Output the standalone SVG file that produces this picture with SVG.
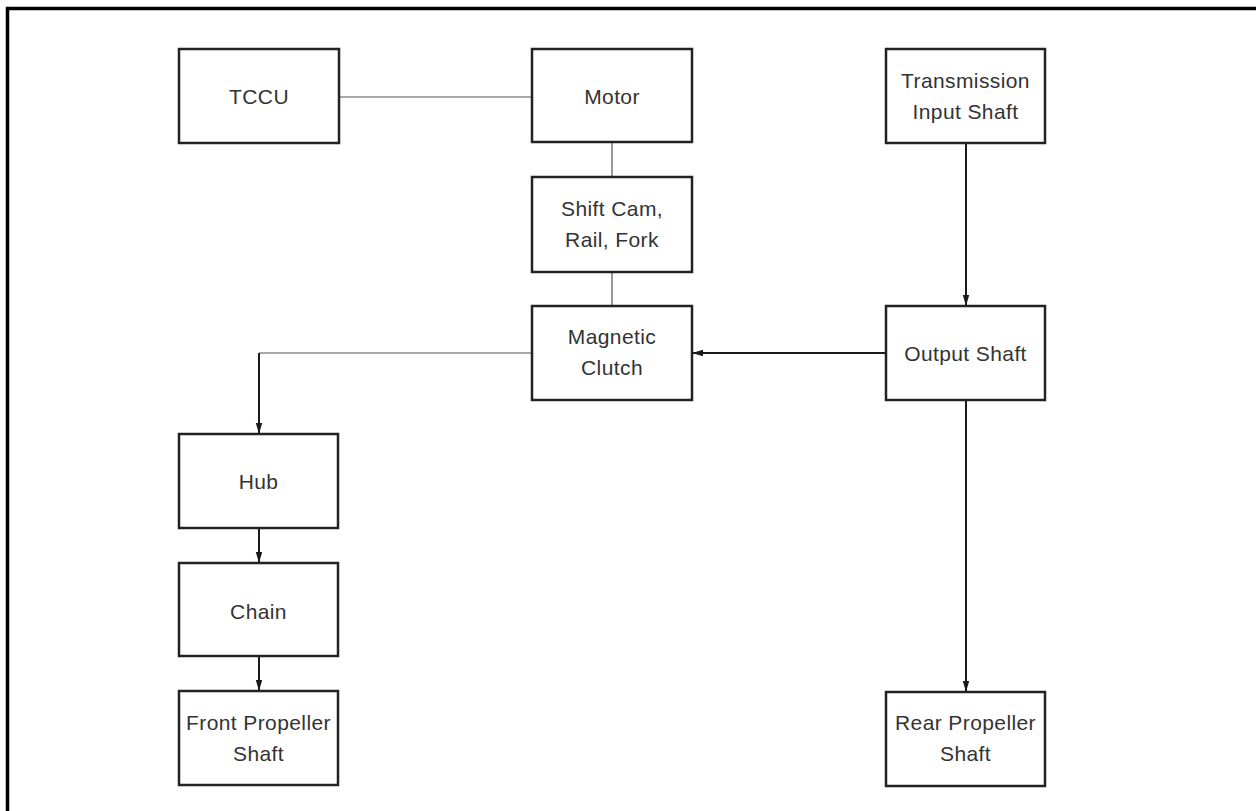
<svg xmlns="http://www.w3.org/2000/svg" width="1256" height="811" viewBox="0 0 1256 811">
<style>
.box{fill:#fff;stroke:#222;stroke-width:2.5}
.t{font-family:"Liberation Sans",Arial,sans-serif;font-size:21px;fill:#333;text-anchor:middle;letter-spacing:0.4px}
.thin{fill:none;stroke:#555;stroke-width:1.2}
.thick{fill:none;stroke:#1a1a1a;stroke-width:2}
</style>
<defs>
<marker id="ah" markerWidth="12" markerHeight="8" refX="11" refY="4" orient="auto" markerUnits="userSpaceOnUse">
<path d="M0,0.8 L11,4 L0,7.2 Z" fill="#1a1a1a"/>
</marker>
</defs>
<rect width="1256" height="811" fill="#fff"/>
<path d="M7.5,811 V8.5 H1256" fill="none" stroke="#000" stroke-width="3.5"/>
<g id="connectors">
<path class="thin" d="M339,97 H532"/>
<path class="thin" d="M612,142 V177"/>
<path class="thin" d="M612,272 V306"/>
<path class="thin" d="M532,353 H259"/>
<path class="thick" d="M259,353 V434" marker-end="url(#ah)"/>
<path class="thick" d="M259,528 V563" marker-end="url(#ah)"/>
<path class="thick" d="M259,656 V691" marker-end="url(#ah)"/>
<path class="thick" d="M886,353 H692" marker-end="url(#ah)"/>
<path class="thick" d="M966,143 V306" marker-end="url(#ah)"/>
<path class="thick" d="M966,400 V692" marker-end="url(#ah)"/>
</g>
<g id="tccu"><rect class="box" x="179" y="49" width="160" height="94"/><text class="t" x="259" y="104">TCCU</text></g>
<g id="motor"><rect class="box" x="532" y="49" width="160" height="93"/><text class="t" x="612" y="104">Motor</text></g>
<g id="shift"><rect class="box" x="532" y="177" width="160" height="95"/><text class="t" x="612" y="216">Shift Cam,</text><text class="t" x="612" y="247">Rail, Fork</text></g>
<g id="clutch"><rect class="box" x="532" y="306" width="160" height="94"/><text class="t" x="612" y="344">Magnetic</text><text class="t" x="612" y="375">Clutch</text></g>
<g id="input"><rect class="box" x="886" y="49" width="159" height="94"/><text class="t" x="965.5" y="88">Transmission</text><text class="t" x="965.5" y="119">Input Shaft</text></g>
<g id="output"><rect class="box" x="886" y="306" width="159" height="94"/><text class="t" x="965.5" y="361">Output Shaft</text></g>
<g id="rear"><rect class="box" x="886" y="692" width="159" height="94"/><text class="t" x="965.5" y="730">Rear Propeller</text><text class="t" x="965.5" y="761">Shaft</text></g>
<g id="hub"><rect class="box" x="179" y="434" width="159" height="94"/><text class="t" x="258.5" y="489">Hub</text></g>
<g id="chain"><rect class="box" x="179" y="563" width="159" height="93"/><text class="t" x="258.5" y="619">Chain</text></g>
<g id="front"><rect class="box" x="179" y="691" width="159" height="94"/><text class="t" x="258.5" y="730">Front Propeller</text><text class="t" x="258.5" y="761">Shaft</text></g>
</svg>
